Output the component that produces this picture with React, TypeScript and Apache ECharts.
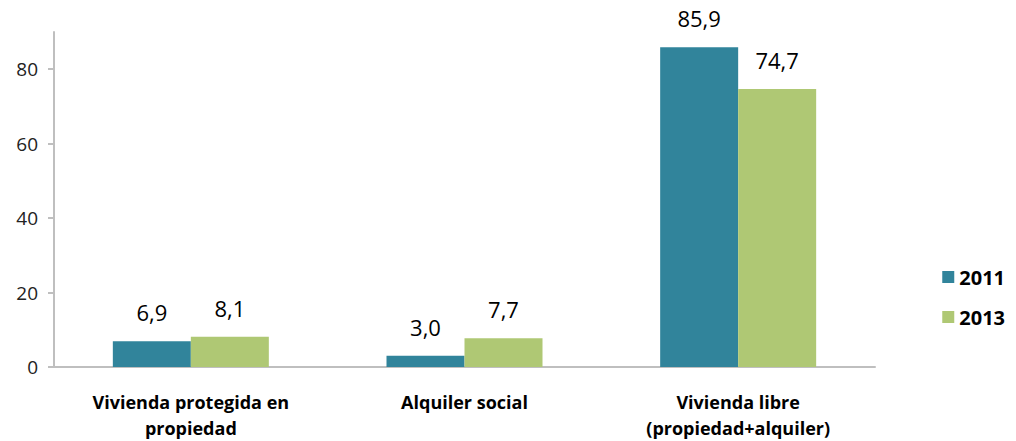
import React, { useEffect, useRef } from "react";
import * as echarts from "echarts";

const categories = ["Vivienda protegida en\npropiedad", "Alquiler social", "Vivienda libre\n(propiedad+alquiler)"];
const series2011 = [6.9, 3.0, 85.9];
const series2013 = [8.1, 7.7, 74.7];
const seriesNames = ["2011", "2013"];

const FONT = "'Open Sans', 'Liberation Sans', sans-serif";

export default function App() {
  const ref = useRef<HTMLDivElement>(null);
  useEffect(() => {
    document.body.style.margin = "0";
    if (!ref.current) return;
    const chart = echarts.init(ref.current, undefined, { renderer: "svg" });
    const label = {
      show: true,
      position: "top",
      distance: 18,
      color: "#000",
      fontSize: 22,
      fontFamily: FONT,
      formatter: (p: any) => Number(p.value).toFixed(1).replace(".", ","),
    };
    chart.setOption({
      animation: false,
      grid: { left: 54, right: 141, top: 32, bottom: 70 },
      legend: {
        orient: "vertical",
        right: 6,
        top: 262,
        itemWidth: 12,
        itemHeight: 12,
        itemGap: 20,
        icon: "rect",
        textStyle: { fontSize: 20, fontWeight: "bold", color: "#000", fontFamily: FONT },
        data: seriesNames,
      },
      xAxis: {
        type: "category",
        data: categories,
        axisLine: { lineStyle: { color: "#bfbfbf", width: 2 } },
        axisTick: { show: false },
        axisLabel: {
          interval: 0,
          margin: 22,
          fontSize: 18,
          fontWeight: "bold",
          color: "#000",
          lineHeight: 26,
          fontFamily: FONT,
        },
      },
      yAxis: {
        type: "value",
        min: 0,
        max: 90,
        interval: 20,
        splitLine: { show: false },
        axisLine: { show: true, lineStyle: { color: "#bfbfbf", width: 2 } },
        axisTick: { show: true, length: 6, lineStyle: { color: "#bfbfbf", width: 2 } },
        axisLabel: { showMaxLabel: false, fontSize: 19, color: "#222", margin: 16, fontFamily: FONT },
      },
      series: [
        {
          name: seriesNames[0],
          type: "bar",
          data: series2011,
          barWidth: 78,
          barGap: "0%",
          itemStyle: { color: "#31849b" },
          label,
        },
        {
          name: seriesNames[1],
          type: "bar",
          data: series2013,
          barWidth: 78,
          barGap: "0%",
          itemStyle: { color: "#afc874" },
          label,
        },
      ],
    });
    return () => chart.dispose();
  }, []);
  return <div ref={ref} style={{ width: 1016, height: 441 }} />;
}
